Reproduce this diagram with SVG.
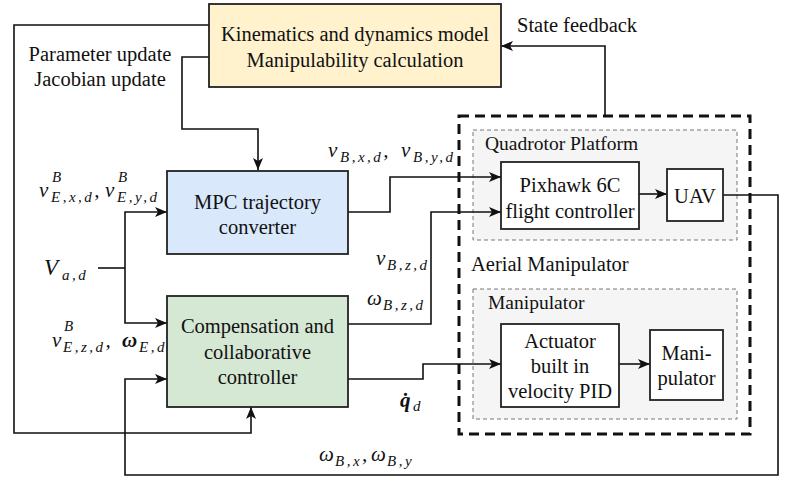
<svg xmlns="http://www.w3.org/2000/svg" width="800" height="486" viewBox="0 0 800 486">
<defs>
<style>
.t{font-size:20.5px;text-anchor:middle}
.tl{font-size:20.5px}
.g{font-size:19.5px}
.m{font-size:21px;font-style:italic}
.s{font-size:15px;letter-spacing:2.5px}
.box{stroke:#222;stroke-width:1.8}
.c{fill:none;stroke:#111;stroke-width:1.6}
</style>
<marker id="ah" viewBox="0 0 12 10" refX="12" refY="5" markerWidth="12" markerHeight="10" markerUnits="userSpaceOnUse" orient="auto">
<path d="M0,0 L12,5 L0,10 L3,5 z" fill="#111"/>
</marker>
</defs>
<rect width="800" height="486" fill="#fff"/>
<g font-family="Times New Roman, Liberation Serif, serif" fill="#111">

<g id="aerial-manipulator">
<rect x="459" y="116" width="291" height="318" fill="none" stroke="#111" stroke-width="3" stroke-dasharray="10 6"/>
<text class="tl" x="471" y="271">Aerial Manipulator</text>
</g>
<g id="quadrotor-platform">
<rect x="473" y="130" width="264" height="110" fill="#f5f5f5" stroke="#777" stroke-width="1" stroke-dasharray="4 3"/>
<text class="g" x="485" y="150">Quadrotor Platform</text>
</g>
<g id="manipulator-group">
<rect x="473" y="289" width="264" height="130" fill="#f5f5f5" stroke="#777" stroke-width="1" stroke-dasharray="4 3"/>
<text class="g" x="488" y="309">Manipulator</text>
</g>

<g id="connectors">
<path class="c" d="M209,25 H14 V433 H251 V407" marker-end="url(#ah)"/>
<path class="c" d="M209,57 H182 V129 H258 V170" marker-end="url(#ah)"/>
<path class="c" d="M605,116 V46 H501" marker-end="url(#ah)"/>
<path class="c" d="M98,268 H125"/>
<path class="c" d="M125,268 V212 H167" marker-end="url(#ah)"/>
<path class="c" d="M125,268 V323 H167" marker-end="url(#ah)"/>
<path class="c" d="M348,212 H390 V177 H501" marker-end="url(#ah)"/>
<path class="c" d="M348,324 H431 V212 H501" marker-end="url(#ah)"/>
<path class="c" d="M639,194 H667" marker-end="url(#ah)"/>
<path class="c" d="M723,195 H778 V475 H125 V379 H167" marker-end="url(#ah)"/>
<path class="c" d="M348,379 H423 V364 H501" marker-end="url(#ah)"/>
<path class="c" d="M619,364 H650" marker-end="url(#ah)"/>
</g>

<g id="model">
<rect class="box" x="209" y="4" width="292" height="83" fill="#fff2cc"/>
<text class="t" x="355" y="41">Kinematics and dynamics model</text>
<text class="t" x="355" y="67">Manipulability calculation</text>
</g>
<g id="mpc">
<rect class="box" x="167" y="171" width="181" height="83" fill="#dae8fc"/>
<text class="t" x="257.5" y="209">MPC trajectory</text>
<text class="t" x="257.5" y="234">converter</text>
</g>
<g id="compensation">
<rect class="box" x="167" y="296" width="181" height="111" fill="#d5e8d4"/>
<text class="t" x="257.5" y="333">Compensation and</text>
<text class="t" x="257.5" y="359">collaborative</text>
<text class="t" x="257.5" y="384">controller</text>
</g>
<g id="pixhawk">
<rect class="box" x="501" y="162" width="138" height="67" fill="#fff"/>
<text class="t" x="570" y="192">Pixhawk 6C</text>
<text class="t" x="570" y="218">flight controller</text>
</g>
<g id="uav">
<rect class="box" x="667" y="169" width="56" height="52" fill="#fff"/>
<text class="t" x="695" y="203">UAV</text>
</g>
<g id="actuator">
<rect class="box" x="501" y="324" width="118" height="83" fill="#fff"/>
<text class="t" x="560" y="348">Actuator</text>
<text class="t" x="560" y="373">built in</text>
<text class="t" x="560" y="398">velocity PID</text>
</g>
<g id="manipulator">
<rect class="box" x="650" y="330" width="73" height="70" fill="#fff"/>
<text class="t" x="686.5" y="360">Mani-</text>
<text class="t" x="686.5" y="385">pulator</text>
</g>

<g id="labels">
<text class="tl" x="517" y="32">State feedback</text>
<text class="t" x="100" y="61">Parameter update</text>
<text class="t" x="100" y="86">Jacobian update</text>

<text class="m"><tspan x="39" y="197">v</tspan><tspan class="s" x="52" y="182">B</tspan><tspan class="s" x="51" y="202">E,x,d</tspan><tspan y="197">,</tspan><tspan x="105" y="197">v</tspan><tspan class="s" x="118" y="182">B</tspan><tspan class="s" x="117" y="202">E,y,d</tspan></text>

<text class="m"><tspan x="44" y="275" font-size="23">V</tspan><tspan class="s" x="62" y="280">a,d</tspan></text>

<text class="m"><tspan x="52" y="347">v</tspan><tspan class="s" x="64" y="331">B</tspan><tspan class="s" x="63" y="352">E,z,d</tspan><tspan y="347">,</tspan><tspan font-weight="bold" x="122" y="347">ω</tspan><tspan class="s" x="139" y="352">E,d</tspan></text>

<text class="m"><tspan x="328" y="157">v</tspan><tspan class="s" x="340" y="162">B,x,d</tspan><tspan y="157">,</tspan><tspan x="401" y="157">v</tspan><tspan class="s" x="413" y="162">B,y,d</tspan></text>

<text class="m"><tspan x="376" y="265">v</tspan><tspan class="s" x="387" y="270">B,z,d</tspan></text>
<text class="m"><tspan x="367" y="305">ω</tspan><tspan class="s" x="383" y="310">B,z,d</tspan></text>

<text class="m"><tspan font-weight="bold" x="400" y="407">q̇</tspan><tspan class="s" x="413" y="411">d</tspan></text>

<text class="m"><tspan x="319" y="461">ω</tspan><tspan class="s" x="335" y="466">B,x</tspan><tspan y="461">,</tspan><tspan x="371" y="461">ω</tspan><tspan class="s" x="387" y="466">B,y</tspan></text>
</g>
</g>
</svg>
